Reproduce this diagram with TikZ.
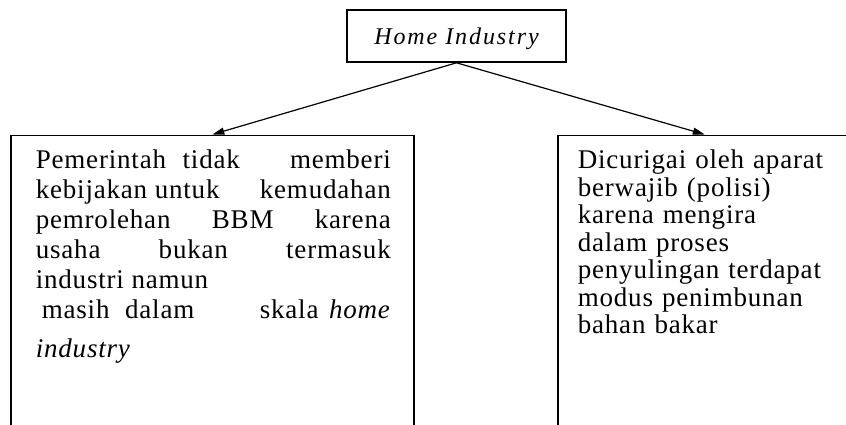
\documentclass[tikz,border=0pt]{standalone}
\usepackage{fontspec}
\setmainfont{Liberation Serif}
\usetikzlibrary{arrows.meta}

\tikzstyle{box} = [draw, line width=1.6pt, inner xsep=7pt, inner ysep=0pt]
\tikzstyle{textbox} = [box, anchor=north west, text height=33.5pt, text depth=300pt,
  font=\fontsize{27}{27.5}\selectfont\addfontfeature{LetterSpace=3}]
\tikzstyle{link} = [draw, line width=1.2pt, -{Triangle[length=12pt,width=7pt]}]

\begin{document}
\begin{tikzpicture}[x=1pt, y=-1pt]
  \useasboundingbox (0,0) rectangle (846,424);
  \clip (0,0) rectangle (846,424);

  \node[box, minimum width=219pt, minimum height=52pt, text height=20pt, text depth=4pt,
    font=\fontsize{24}{26}\selectfont\itshape\addfontfeature{LetterSpace=8}]
    (home) at (456.5,36) {Home Industry};

  \node[textbox, text width=389pt, align=justify] (pemerintah) at (10,134.5) {%
    \leftskip=18pt \rightskip=16pt \baselineskip=30pt
    Pemerintah\hspace{9pt} tidak\hfill memberi\linebreak
    kebijakan untuk\hfill kemudahan\linebreak
    pemrolehan BBM karena\linebreak
    usaha bukan termasuk\linebreak
    industri namun\newline
    \hspace*{6pt}masih\hspace{8pt} dalam\hfill skala\hspace{3pt} \textit{home}\linebreak
    \rule{0pt}{37pt}\textit{industry}\par};

  \node[textbox, text width=280pt, align=left] (aparat) at (557,134.5) {%
    \leftskip=13pt
    Dicurigai oleh aparat\newline
    berwajib (polisi)\newline
    karena mengira\newline
    dalam proses\newline
    penyulingan terdapat\newline
    modus penimbunan\newline
    bahan bakar\par};

  \foreach \sink in {pemerintah, aparat} {
    \path[link] (home.south) -- (\sink.north);
  }
\end{tikzpicture}
\end{document}
